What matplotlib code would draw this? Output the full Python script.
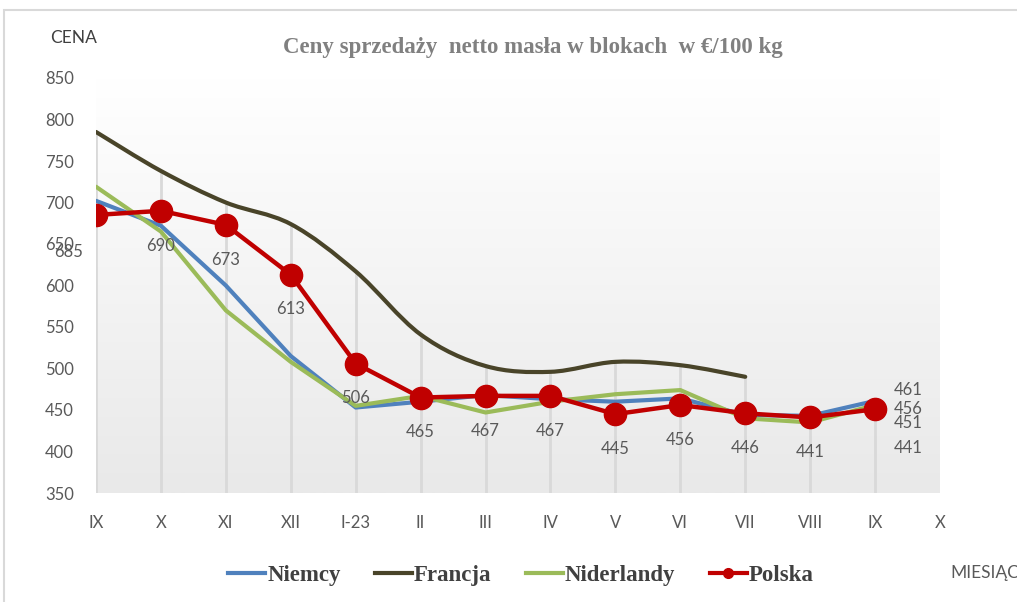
import numpy as np
import matplotlib
matplotlib.use("Agg")
import matplotlib.pyplot as plt
from matplotlib.path import Path
from matplotlib.patches import PathPatch, Rectangle
from matplotlib.lines import Line2D
from matplotlib.colors import LinearSegmentedColormap

# dane
months = ["IX", "X", "XI", "XII", "I-23", "II", "III", "IV", "V", "VI", "VII", "VIII", "IX", "X"]
niemcy = [702, 672, 600, 515, 453, 460, 468, 463, 460, 464, 444, 443, 461]
francja = [785, 738, 700, 674, 617, 541, 503, 496, 508, 504, 490]
niderlandy = [719, 665, 570, 508, 455, 467, 447, 460, 469, 474, 440, 435, 456]
polska = [685, 690, 673, 613, 506, 465, 467, 467, 445, 456, 446, 441, 451]
polska_labels = ["685", "690", "673", "613", "506", "465", "467", "467", "445", "456", "446", "441"]
end_labels = ["461", "456", "451", "441"]

GRAY = "#595959"
plt.rcParams['font.family'] = ['Lato', 'DejaVu Sans']

fig = plt.figure(figsize=(10.17, 6.02), dpi=100)
ax = fig.add_axes([96 / 1017, 1 - 493 / 602, (940 - 96) / 1017, (493 - 78) / 602])
ax.set_xlim(0, 13)
ax.set_ylim(350, 850)

# tlo z gradientem
cmap = LinearSegmentedColormap.from_list("bg", ["#ffffff", "#e9e9e9"])
ax.imshow(np.linspace(0, 1, 256).reshape(-1, 1), cmap=cmap, aspect="auto",
          extent=[0, 13, 350, 850], origin="upper", zorder=0)

# linie spadku (drop lines)
series = [niemcy, francja, niderlandy, polska]
n_pts = len(polska)
tops = [max(s[i] for s in series if i < len(s)) for i in range(n_pts)]
ax.vlines(range(n_pts), 350, tops, color="#d9d9d9", lw=2, zorder=1)

x = np.arange(n_pts)
ax.plot(x, niemcy, color="#4f81bd", lw=3, zorder=3, solid_capstyle="round")
ax.plot(x, niderlandy, color="#9bbb59", lw=3, zorder=3, solid_capstyle="round")

# Francja - linia wygladzona (bezier)
fx = np.arange(len(francja))
pts = np.column_stack([fx, francja]).astype(float)
verts = [tuple(pts[0])]
codes = [Path.MOVETO]
for i in range(len(pts) - 1):
    p0 = pts[i - 1] if i > 0 else pts[i]
    p1, p2 = pts[i], pts[i + 1]
    p3 = pts[i + 2] if i + 2 < len(pts) else pts[i + 1]
    c1 = p1 + (p2 - p0) / 6
    c2 = p2 - (p3 - p1) / 6
    verts += [tuple(c1), tuple(c2), tuple(p2)]
    codes += [Path.CURVE4] * 3
ax.add_patch(PathPatch(Path(verts, codes), facecolor="none", edgecolor="#494429",
                       lw=3, zorder=3, capstyle="round"))

ax.plot(x, polska, color="#c00000", lw=3.2, marker="o", ms=16, zorder=4)

for i, lab in enumerate(polska_labels):
    dx, dy = (-20, -27) if i == 0 else (0, -25)
    ax.annotate(lab, (i, polska[i]), xytext=(dx, dy), textcoords="offset points",
                ha="center", va="center", fontsize=12, color=GRAY, zorder=5)
for lab, dy in zip(end_labels, [14, 0, -10, -28]):
    ax.annotate(lab, (12, polska[12]), xytext=(24, dy), textcoords="offset points",
                ha="center", va="center", fontsize=12, color=GRAY, zorder=5)

ax.set_xticks(range(len(months)))
ax.set_xticklabels(months)
ax.set_yticks(range(350, 851, 50))
ax.tick_params(length=0, labelsize=12, labelcolor=GRAY)
ax.tick_params(axis="y", pad=16)
ax.tick_params(axis="x", pad=16)
for sp in ax.spines.values():
    sp.set_visible(False)

fig.text(50 / 1017, 1 - 38 / 602, "CENA", fontsize=12.5, color="#404040", va="center")
fig.text(950 / 1017, 1 - 573 / 602, "MIESIĄC", fontsize=12.5, color=GRAY, va="center")
fig.text(533 / 1017, 1 - 48 / 602, "Ceny sprzedaży  netto masła w blokach  w €/100 kg",
         family="Liberation Serif", fontweight="bold", fontsize=16.5, color="#808080",
         ha="center", va="center")

# ramka wykresu
fig.patches.append(Rectangle((4 / 1017, -0.1), 1.1, 1 - 10 / 602 + 0.1, transform=fig.transFigure,
                             fill=False, edgecolor="#d9d9d9", lw=1.5))

handles = [Line2D([], [], color="#4f81bd", lw=3),
           Line2D([], [], color="#494429", lw=3),
           Line2D([], [], color="#9bbb59", lw=3),
           Line2D([], [], color="#c00000", lw=3, marker="o", ms=7)]
fig.legend(handles, ["Niemcy", "Francja", "Niderlandy", "Polska"], loc="center",
           bbox_to_anchor=(521 / 1017, 1 - 575 / 602), ncol=4, frameon=False,
           handlelength=1.6, handletextpad=0.1, columnspacing=1.5,
           prop={"family": "Liberation Serif", "weight": "bold", "size": 16.5},
           labelcolor="#404040")

fig.savefig("out.png", dpi=100)
